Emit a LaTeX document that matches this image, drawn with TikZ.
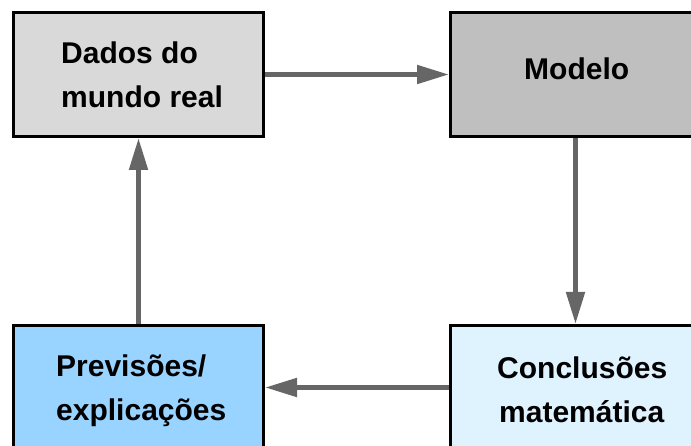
\documentclass[tikz,border=0pt]{standalone}
\usepackage{fontspec}
\setmainfont{Liberation Sans}
\usetikzlibrary{arrows.meta}
\definecolor{cdados}{HTML}{D9D9D9}
\definecolor{cmodelo}{HTML}{BFBFBF}
\definecolor{cprev}{HTML}{99D3FF}
\definecolor{cconcl}{HTML}{DFF3FF}
\definecolor{arrowgray}{HTML}{666666}
\begin{document}
\begin{tikzpicture}[x=1pt,y=-1pt,
  box/.style={draw=black, line width=3pt, minimum width=250pt, minimum height=124pt, inner sep=0pt},
  conn/.style={draw=arrowgray, line width=5pt, -{Triangle[length=32pt,width=18pt]}},
  lbl/.style={font=\fontsize{30}{44}\selectfont\bfseries, anchor=base west, inner sep=0pt}]
\useasboundingbox (0,0) rectangle (691,446);
\clip (0,0) rectangle (691,446);
\node[box, fill=cdados] (dados) at (138.5,74.5) {};
\node[box, fill=cmodelo] (modelo) at (575.5,74.5) {};
\node[box, fill=cprev] (prev) at (138.5,387.5) {};
\node[box, fill=cconcl] (concl) at (575.5,387.5) {};
\draw[conn] (dados.east) -- (modelo.west);
\draw[conn] (modelo.south) -- (concl.north);
\draw[conn] (concl.west) -- (prev.east);
\draw[conn] (prev.north) -- (dados.south);
\node[lbl] (t1) at (61,64) {Dados do};
\node[lbl] (t2) at (61,108) {mundo real};
\node[lbl] (t3) at (524,80) {Modelo};
\node[lbl] (t4) at (56,377) {Previsões/};
\node[lbl] (t5) at (56,420) {explicações};
\node[lbl] (t6) at (497,378) {Conclusões};
\node[lbl] (t7) at (499,422) {matemática};
\end{tikzpicture}
\end{document}
